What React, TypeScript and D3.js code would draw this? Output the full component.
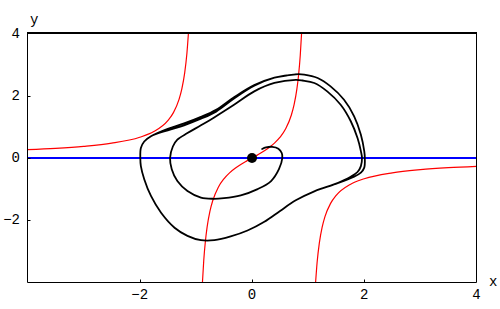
import React from 'react';
import * as d3 from 'd3';

type Pt = [number, number];

// Axis ticks
const xTicks = [-2, 0, 2, 4];
const yTicks = [-2, 0, 2, 4];

// Red nullcline branches
const redLeft: Pt[] = [
  [-4, 0.267], [-3.5, 0.311], [-3, 0.375], [-2.5, 0.476], [-2, 0.667], [-1.75, 0.848],
  [-1.5, 1.2], [-1.4, 1.458], [-1.3, 1.884], [-1.25, 2.222], [-1.2, 2.727], [-1.16, 3.357], [-1.133, 4.0],
];
const redMiddle: Pt[] = [
  [-0.883, -4.0], [-0.86, -3.3], [-0.83, -2.668], [-0.8, -2.22], [-0.75, -1.714], [-0.7, -1.373],
  [-0.6, -0.9375], [-0.5, -0.667], [-0.4, -0.476], [-0.3, -0.33], [-0.2, -0.208], [-0.1, -0.101],
  [0, 0], [0.1, 0.101], [0.2, 0.208], [0.3, 0.33], [0.4, 0.476], [0.5, 0.667], [0.6, 0.9375],
  [0.7, 1.373], [0.75, 1.714], [0.8, 2.22], [0.83, 2.668], [0.86, 3.3], [0.883, 4.0],
];
const redRight: Pt[] = [
  [1.133, -4.0], [1.16, -3.357], [1.2, -2.727], [1.25, -2.222], [1.3, -1.884], [1.4, -1.458],
  [1.5, -1.2], [1.75, -0.848], [2, -0.667], [2.5, -0.476], [3, -0.375], [3.5, -0.311], [4, -0.267],
];

// Blue nullcline
const blueLine: Pt[] = [[-4, 0], [4, 0]];

// Equilibrium point
const equilibrium: Pt[] = [[0, 0]];

// Trajectory
const trajectoryTurn1: Pt[] = [
  [0.18, 0.29], [0.25, 0.34], [0.36, 0.36], [0.47, 0.30], [0.53, 0.16], [0.54, 0.0],
  [0.48, -0.36], [0.34, -0.74], [0.10, -1.0], [-0.20, -1.20], [-0.50, -1.29], [-0.70, -1.31],
  [-0.91, -1.27], [-1.15, -1.06], [-1.33, -0.74], [-1.43, -0.36], [-1.46, 0.0], [-1.41, 0.37],
  [-1.33, 0.59], [-1.15, 0.80], [-0.91, 1.05], [-0.66, 1.32], [-0.32, 1.71], [0.04, 2.14],
  [0.40, 2.41], [0.78, 2.51], [0.90, 2.49], [1.11, 2.41], [1.34, 2.14], [1.58, 1.71],
  [1.76, 1.18], [1.88, 0.64], [1.94, 0.22], [1.96, 0.0], [1.94, -0.26], [1.88, -0.45], [1.76, -0.60],
];
const trajectoryTurn2: Pt[] = [
  [1.46, -0.85], [1.11, -1.07], [0.78, -1.36], [0.50, -1.70], [0.22, -2.05], [-0.08, -2.33],
  [-0.38, -2.52], [-0.67, -2.64], [-0.91, -2.64], [-1.15, -2.50], [-1.38, -2.24], [-1.62, -1.76],
  [-1.80, -1.22], [-1.92, -0.68], [-1.98, -0.26], [-1.99, 0.0], [-1.98, 0.32], [-1.92, 0.53],
  [-1.80, 0.70], [-1.50, 0.89], [-1.21, 1.05], [-0.91, 1.26], [-0.64, 1.49], [-0.32, 1.91],
  [0.04, 2.32], [0.40, 2.58], [0.78, 2.69], [0.93, 2.68], [1.17, 2.57], [1.40, 2.30],
  [1.64, 1.87], [1.82, 1.34], [1.94, 0.75], [2.00, 0.22], [2.01, 0.0], [2.00, -0.31],
  [1.94, -0.47], [1.82, -0.60],
];
const trajectoryTurn3: Pt[] = [
  [1.46, -0.85], [1.11, -1.07], [0.78, -1.36], [0.50, -1.70], [0.22, -2.05], [-0.08, -2.33],
  [-0.38, -2.52], [-0.67, -2.64], [-0.91, -2.64], [-1.15, -2.50], [-1.38, -2.24], [-1.62, -1.76],
  [-1.80, -1.22], [-1.92, -0.68], [-1.98, -0.26], [-1.99, 0.0], [-1.98, 0.32], [-1.92, 0.53],
  [-1.80, 0.70], [-1.50, 0.94], [-1.21, 1.11], [-0.91, 1.32], [-0.64, 1.55], [-0.32, 1.95],
  [0.04, 2.34], [0.40, 2.58], [0.78, 2.69],
];

const W = 500;
const H = 309;
const FONT = "'Liberation Mono', 'Courier New', monospace";

const fmt = (d: number) => (d < 0 ? '\u2212' + Math.abs(d) : String(d));

export default function App() {
  const x = d3.scaleLinear().domain([-4, 4]).range([27.5, 476.5]);
  const y = d3.scaleLinear().domain([-4, 4]).range([282.5, 33.5]);

  const monoLine = d3
    .line<Pt>()
    .x((d) => x(d[0]))
    .y((d) => y(d[1]))
    .curve(d3.curveMonotoneX);
  const smoothLine = d3
    .line<Pt>()
    .x((d) => x(d[0]))
    .y((d) => y(d[1]))
    .curve(d3.curveCatmullRom.alpha(0.5));
  const straight = d3
    .line<Pt>()
    .x((d) => x(d[0]))
    .y((d) => y(d[1]));

  const trajectory = [...trajectoryTurn1, ...trajectoryTurn2, ...trajectoryTurn3];

  const [x0, x1] = x.range();
  const [y0, y1] = y.range();

  return (
    <svg
      width={W}
      height={H}
      style={{ position: 'absolute', left: 0, top: 0, background: '#fff' }}
      fontFamily={FONT}
    >
      <defs>
        <clipPath id="plotClip">
          <rect x={x0} y={y1} width={x1 - x0} height={y0 - y1} />
        </clipPath>
      </defs>
      <rect x={0} y={0} width={W} height={H} fill="#fff" />

      <g clipPath="url(#plotClip)" fill="none">
        {[redLeft, redMiddle, redRight].map((s, i) => (
          <path key={i} d={monoLine(s) || ''} stroke="#ff0000" strokeWidth={1.2} />
        ))}
        <path d={straight(blueLine) || ''} stroke="#0000ff" strokeWidth={2} />
        <path
          d={smoothLine(trajectory) || ''}
          stroke="#000"
          strokeWidth={1.8}
          strokeLinejoin="round"
          strokeLinecap="round"
        />
        {equilibrium.map((p, i) => (
          <circle key={i} cx={x(p[0])} cy={y(p[1])} r={5} fill="#000" />
        ))}
      </g>

      {/* frame */}
      <g stroke="#000" fill="none">
        <line x1={x0} x2={x0} y1={y1} y2={y0} strokeWidth={1} />
        <line x1={x1} x2={x1} y1={y1} y2={y0} strokeWidth={1} />
        <line x1={x0} x2={x1} y1={y0} y2={y0} strokeWidth={1} />
        <line x1={x0 - 0.5} x2={x1 + 0.5} y1={y(4) - 0.5} y2={y(4) - 0.5} strokeWidth={2} />
      </g>

      {/* x ticks */}
      <g>
        {xTicks.map((t) => (
          <g key={t}>
            {t < 4 && (
              <line x1={Math.round(x(t)) + 0.5} x2={Math.round(x(t)) + 0.5} y1={y0} y2={y0 - 3} stroke="#000" />
            )}
            <text x={x(t)} y={299} textAnchor="middle" fontSize={14} fill="#000">
              {fmt(t)}
            </text>
          </g>
        ))}
      </g>

      {/* y ticks */}
      <g>
        {yTicks.map((t) => (
          <g key={t}>
            {t < 4 && (
              <line x1={x0} x2={x0 + 3} y1={Math.round(y(t)) + 0.5} y2={Math.round(y(t)) + 0.5} stroke="#000" />
            )}
            <text x={20} y={y(t) + 4} textAnchor="end" fontSize={14} fill="#000">
              {fmt(t)}
            </text>
          </g>
        ))}
      </g>

      {/* axis labels */}
      <text x={30} y={24} fontSize={14} fill="#000">
        y
      </text>
      <text x={489} y={286} fontSize={14} fill="#000">
        x
      </text>
    </svg>
  );
}
